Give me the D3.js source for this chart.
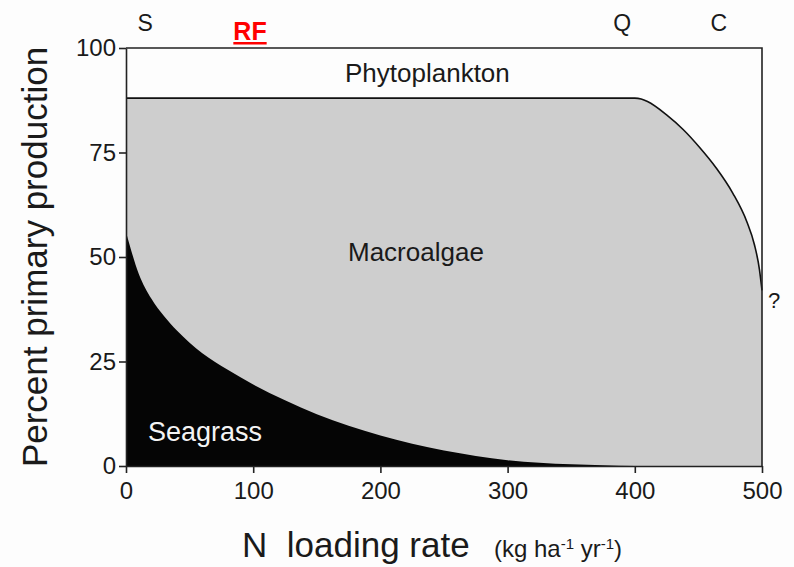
<!DOCTYPE html>
<html>
<head>
<meta charset="utf-8">
<script src="https://cdn.jsdelivr.net/npm/d3@7"></script>
<style>
    body { margin: 0; background: #fdfdfd; }
    text { font-family: "Liberation Sans", Arial, sans-serif; fill: #1a1a1a; }
</style>
</head>
<body>
<div id="chart"></div>
<script>
    // N loading (kg/ha/yr) sampled along the seagrass boundary
    const seagrassLoad = [0, 10, 20, 30, 40, 50, 60, 80, 100, 125, 150, 175, 200, 225, 250, 275, 300, 325, 350, 375, 400, 500]
    const seagrassPct = [56, 46, 40, 35.8, 32.4, 29.5, 27, 23, 19.5, 15.7, 12.4, 9.6, 7.3, 5.3, 3.7, 2.4, 1.4, 0.8, 0.4, 0.15, 0, 0]

    // upper edge of macroalgae (everything above is phytoplankton)
    const macroLoad = [0, 200, 380, 400, 405, 410, 425, 438, 451, 464, 477, 488, 494, 498, 500]
    const macroTopPct = [88, 88, 88, 88, 87.8, 87.2, 84, 80.5, 76.2, 71.3, 65.3, 58.5, 53, 47, 42]

    const xTicks = [0, 100, 200, 300, 400, 500]
    const yTicks = [0, 25, 50, 75, 100]

    const topLabels = [
        { text: "S", at: 15 },
        { text: "Q", at: 390 },
        { text: "C", at: 466 }
    ]

    const width = 794,
        height = 567,
        margin = { top: 48, left: 126, right: 32, bottom: 101 }

    const x = d3.scaleLinear().domain([0, 500]).range([margin.left, width - margin.right])
    const y = d3.scaleLinear().domain([0, 100]).range([height - margin.bottom, margin.top])

    const svg = d3.select("#chart").append("svg")
        .attr("width", width)
        .attr("height", height)

    const seagrass = d3.zip(seagrassLoad, seagrassPct)
    const macro = d3.zip(macroLoad, macroTopPct)

    // macroalgae (grey) fills from 0 up to its top edge, seagrass is painted over it
    svg.append("path")
        .datum(macro)
        .attr("d", d3.area()
            .x(d => x(d[0]))
            .y0(y(0))
            .y1(d => y(d[1]))
            .curve(d3.curveMonotoneX))
        .attr("fill", "#cecece")

    svg.append("path")
        .datum(seagrass)
        .attr("d", d3.area()
            .x(d => x(d[0]))
            .y0(y(0))
            .y1(d => y(d[1]))
            .curve(d3.curveMonotoneX))
        .attr("fill", "#050505")

    svg.append("path")
        .datum(macro)
        .attr("d", d3.line()
            .x(d => x(d[0]))
            .y(d => y(d[1]))
            .curve(d3.curveMonotoneX))
        .attr("fill", "none")
        .attr("stroke", "#111")
        .attr("stroke-width", 1.6)

    // frame: top and right
    svg.append("path")
        .attr("d", `M${x(0)},${y(100)}H${x(500)}V${y(0)}`)
        .attr("fill", "none")
        .attr("stroke", "#222")
        .attr("stroke-width", 1.6)

    svg.append("g")
        .attr("transform", `translate(${x(0)},0)`)
        .call(d3.axisLeft(y).tickValues(yTicks).tickSize(7).tickPadding(3).tickSizeOuter(0))
    svg.append("g")
        .attr("transform", `translate(0,${y(0)})`)
        .call(d3.axisBottom(x).tickValues(xTicks).tickSize(7).tickPadding(9).tickSizeOuter(0))

    svg.selectAll(".domain, .tick line")
        .attr("stroke", "#222")
        .attr("stroke-width", 1.6)
    svg.selectAll(".tick text")
        .attr("font-size", 24)
        .attr("font-family", "Liberation Sans, Arial, sans-serif")
        .attr("fill", "#1a1a1a")

    // region labels
    svg.append("text")
        .attr("x", 345)
        .attr("y", 82)
        .attr("font-size", 26)
        .text("Phytoplankton")

    svg.append("text")
        .attr("x", 348)
        .attr("y", 261)
        .attr("font-size", 26)
        .text("Macroalgae")

    svg.append("text")
        .attr("x", 148)
        .attr("y", 441)
        .attr("font-size", 27)
        .style("fill", "#f4f4f4")
        .text("Seagrass")

    svg.append("text")
        .attr("x", 768)
        .attr("y", 308)
        .attr("font-size", 22)
        .text("?")

    // site labels along the top
    svg.selectAll(".site")
        .data(topLabels)
        .enter()
        .append("text")
        .attr("class", "site")
        .attr("x", d => x(d.at))
        .attr("y", 31)
        .attr("text-anchor", "middle")
        .attr("font-size", 23)
        .text(d => d.text)

    svg.append("text")
        .attr("x", 250)
        .attr("y", 40)
        .attr("text-anchor", "middle")
        .attr("font-size", 25)
        .attr("font-weight", "bold")
        .attr("text-decoration", "underline")
        .style("fill", "#ff0000")
        .text("RF")

    // axis titles
    svg.append("text")
        .attr("transform", `translate(47,${y(50)}) rotate(-90)`)
        .attr("text-anchor", "middle")
        .attr("font-size", 35)
        .text("Percent primary production")

    svg.append("text")
        .attr("x", 242)
        .attr("y", 557)
        .attr("font-size", 35)
        .attr("xml:space", "preserve")
        .text("N  loading rate")

    const units = svg.append("text")
        .attr("x", 494)
        .attr("y", 557)
        .attr("font-size", 24)
    units.append("tspan").text("(kg ha")
    units.append("tspan").attr("font-size", 15).attr("dy", -8).text("-1")
    units.append("tspan").attr("dy", 8).text(" yr")
    units.append("tspan").attr("font-size", 15).attr("dy", -8).text("-1")
    units.append("tspan").attr("dy", 8).text(")")
</script>
</body>
</html>
